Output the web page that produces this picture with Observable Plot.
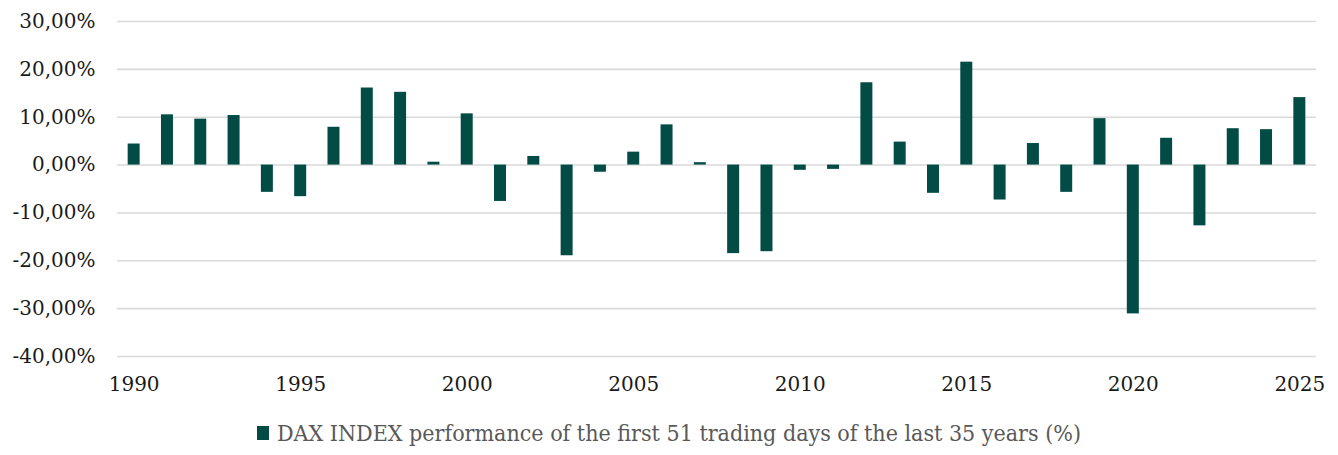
<!DOCTYPE html>
<html>
<head>
<meta charset="utf-8">
<script src="https://cdn.jsdelivr.net/npm/d3@7"></script>
<script src="https://cdn.jsdelivr.net/npm/@observablehq/plot@0.6"></script>
<style>
  body { margin: 0; background: #fff; }
  #legend { display: flex; justify-content: center; align-items: center; gap: 8px;
    font-family: "DejaVu Serif Condensed", "DejaVu Serif", serif; font-size: 23px; color: #595959; margin-top: 10px; }
  #legend .sw { width: 12px; height: 14px; background: #024c45; display: inline-block; }
</style>
</head>
<body>
<div id="chart"></div>
<div id="legend"><span class="sw"></span><span>DAX INDEX performance of the first 51 trading days of the last 35 years (%)</span></div>
<script>
const years = d3.range(1990, 2026);
const values = [4.4, 10.5, 9.6, 10.35, -5.7, -6.6, 7.9, 16.1, 15.2, 0.6,
  10.7, -7.6, 1.8, -18.95, -1.5, 2.7, 8.4, 0.5, -18.5, -18.1,
  -1.1, -0.9, 17.2, 4.8, -5.9, 21.5, -7.3, 4.5, -5.7, 9.7,
  -31.1, 5.6, -12.7, 7.6, 7.4, 14.1];
const yTicks = [-40, -30, -20, -10, 0, 10, 20, 30];
const xTickLabels = [1990, 1995, 2000, 2005, 2010, 2015, 2020, 2025];

const data = years.map((y, i) => ({year: y, value: values[i]}));
const fmt = d => d.toFixed(2).replace(".", ",") + "%";

const chart = Plot.plot({
  width: 1338,
  height: 410,
  marginTop: 21,
  marginBottom: 54,
  marginLeft: 117,
  marginRight: 22,
  style: {fontFamily: "DejaVu Serif", fontSize: "20px", color: "#1a1a1a"},
  x: {type: "band", domain: years, paddingInner: 0.64, paddingOuter: 0.32, align: 0.5, round: false, label: null},
  y: {domain: [-40, 30], label: null},
  marks: [
    Plot.gridY(yTicks, {stroke: "#d9d9d9", strokeOpacity: 1, strokeWidth: 1.6}),
    Plot.barY(data, {x: "year", y: "value", fill: "#024c45"}),
    Plot.axisY(yTicks, {tickSize: 0, tickPadding: 22, tickFormat: fmt, fontSize: 20, fill: "#1a1a1a"}),
    Plot.axisX(xTickLabels, {tickSize: 0, tickPadding: 20, tickFormat: d => String(d), fontSize: 20, fill: "#1a1a1a"})
  ]
});
document.getElementById("chart").appendChild(chart);
</script>
</body>
</html>
